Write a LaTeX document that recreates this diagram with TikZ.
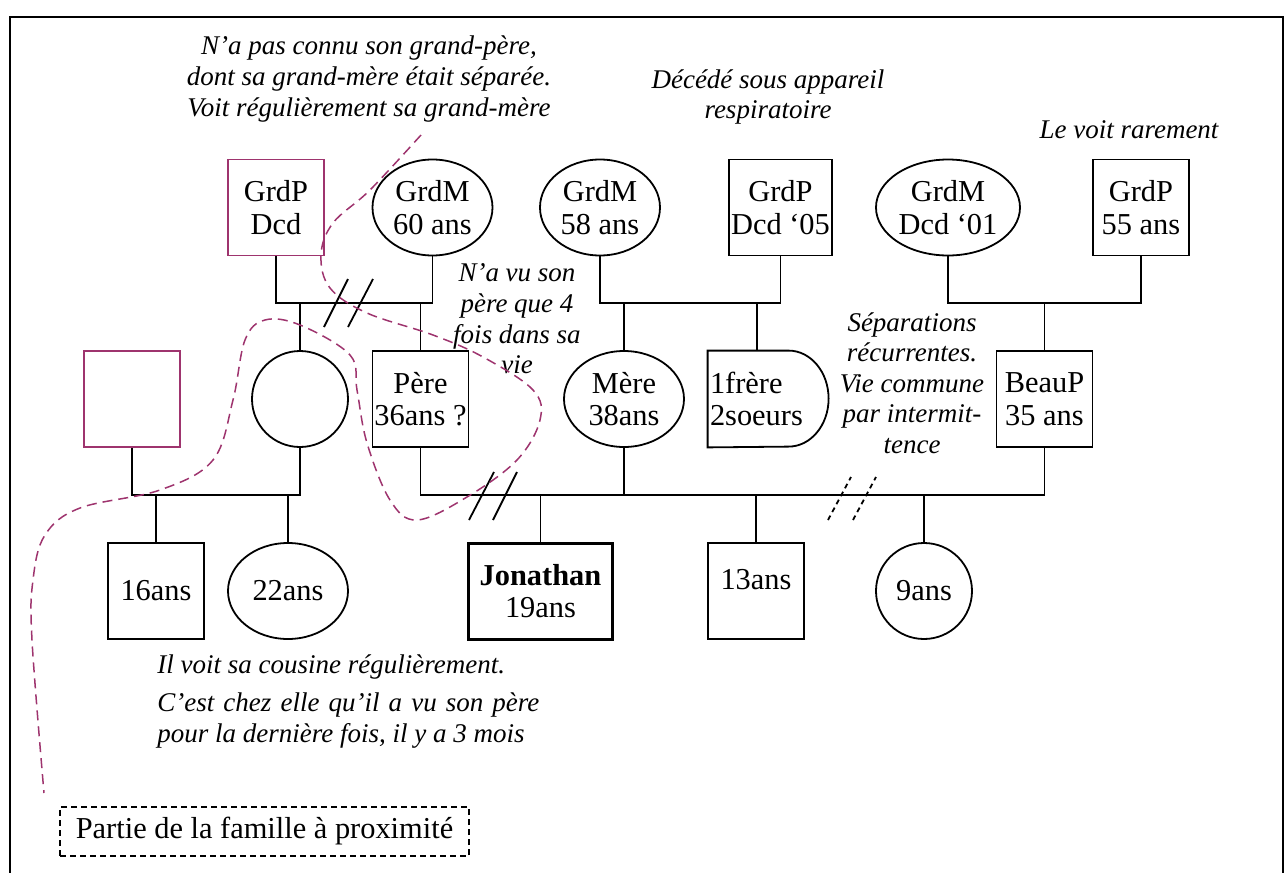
\documentclass[tikz,border=0pt]{standalone}
\usepackage{fontspec}
\setmainfont{Liberation Serif}
\usetikzlibrary{positioning,shapes.geometric}
\definecolor{prune}{RGB}{158,52,110}
\tikzstyle{homme} = [draw, rectangle, line width=0.9pt,
    minimum width=48pt, minimum height=48pt, inner sep=1pt, align=center]
\tikzstyle{femme} = [draw, ellipse, line width=0.9pt,
    minimum width=60pt, minimum height=48pt, inner sep=0pt, align=center]
\tikzstyle{ronde} = [femme, minimum width=48pt]
\tikzstyle{absent} = [homme, draw=prune]
\tikzstyle{note} = [font=\fontsize{13.5}{15.3}\selectfont\itshape, align=center, inner sep=0pt]
\tikzstyle{lien} = [line width=0.9pt]
\tikzstyle{proche} = [draw=prune, line width=0.75pt, dash pattern=on 5pt off 3pt]

\begin{document}
\begin{tikzpicture}[x=0.5pt, y=-0.5pt, font=\fontsize{15.2}{16.3}\selectfont]
	\useasboundingbox (0,0) rectangle (1287,873);
	\draw[line width=1pt] (10,873) -- (10,17) -- (1283,17) -- (1283,873);

	% grands-parents
	\node[absent] (gp1) at (276,207.5) {GrdP\\Dcd};
	\node[femme] (gm1) at (432.5,207.5) {GrdM\\60 ans};
	\node[femme] (gm2) at (600,207.5) {GrdM\\58 ans};
	\node[homme] (gp2) at (780.5,207.5) {GrdP\\Dcd ‘05};
	\node[femme, minimum width=72pt] (gm3) at (948,207.5) {GrdM\\Dcd ‘01};
	\node[homme] (gp3) at (1141,207.5) {GrdP\\55 ans};

	% parents
	\node[absent] (oncle) at (132,399) {};
	\node[ronde] (tante) at (300,399) {};
	\node[homme] (pere) at (420.5,399) {Père\\36ans ?};
	\node[femme] (mere) at (624,399) {Mère\\38ans};
	\node[minimum width=60.5pt, minimum height=48pt, inner sep=0pt] (fratrie) at (768.5,399) {};
	\node[align=left, inner sep=1pt, anchor=west] (fratxt) at (fratrie.west) {1frère\\2soeurs};
	\node[homme] (beaup) at (1044.5,399) {BeauP\\35 ans};

	% enfants
	\node[homme] (c16) at (156,591) {16ans};
	\node[femme] (c22) at (288,591) {22ans};
	\node[homme, line width=1.5pt, minimum width=72pt] (jon) at (540.5,591) {\textbf{Jonathan}\\19ans};
	\node[homme] (c13) at (756,591) {\raisebox{12pt}{13ans}};
	\node[ronde] (c9) at (924,591) {9ans};

	% notes
	\node[note] (n1) at (369,79) {N'a pas connu son grand-père,\\dont sa grand-mère était séparée.\\Voit régulièrement sa grand-mère};
	\node[note] (n2) at (768,97) {Décédé sous appareil\\respiratoire};
	\node[note] (n3) at (1129,130) {Le voit rarement};
	\node[note] (n4) at (517,319) {N'a vu son\\père que 4\\fois dans sa\\vie};
	\node[note] (n5) at (912,383) {Séparations\\récurrentes.\\Vie commune\\par intermit-\\tence};
	\node[note, anchor=base west] (n6) at (157,673) {Il voit sa cousine régulièrement.};
	\node[note, anchor=base west, align=left] (n7) at (157,742)
	    {\makebox[191pt][s]{C'est chez elle qu'il a vu son père}\\pour la dernière fois, il y a 3 mois};

	% unions
	\coordinate (u1) at (354,303);
	\draw[lien] (gp1.south) |- (u1) -| (gm1.south);
	\draw[lien] (tante.north) -- (tante.north |- u1);
	\draw[lien] (pere.north) -- (pere.north |- u1);
	\draw[lien] (u1) ++(-30,24) -- ++(24,-48) ++(0,48) -- ++(25,-48);

	\coordinate (u2) at (690,303);
	\draw[lien] (gm2.south) |- (u2) -| (gp2.south);
	\draw[lien] (mere.north) -- (mere.north |- u2);
	\draw[lien] (fratrie.north west) ++(49,0) coordinate (fr) -- (fr |- u2);
	\draw[lien] (fratrie.north west) -- ++(81,0)
	    arc[start angle=90, end angle=-90, x radius=20pt, y radius=24pt] -- (fratrie.south west) -- cycle;

	\coordinate (u3) at (1044.5,303);
	\draw[lien] (gm3.south) |- (u3) -| (gp3.south);
	\draw[lien] (beaup.north) -- (beaup.north |- u3);

	\coordinate (u4) at (216,495);
	\draw[lien] (oncle.south) |- (u4) -| (tante.south);
	\draw[lien] (c16.north) -- (c16.north |- u4);
	\draw[lien] (c22.north) -- (c22.north |- u4);

	\coordinate (u5) at (733,495);
	\draw[lien] (pere.south) |- (u5) -| (beaup.south);
	\draw[lien] (mere.south) -- (mere.south |- u5);
	\draw[lien] (jon.north) -- (jon.north |- u5);
	\draw[lien] (c13.north) -- (c13.north |- u5);
	\draw[lien] (c9.north) -- (c9.north |- u5);
	\draw[lien] (u5 -| pere.south) ++(48.5,25) -- ++(25,-48) ++(-1,48) -- ++(24,-48);
	\draw[lien, dash pattern=on 2.5pt off 2pt] (u5) ++(95,25) -- ++(23,-43) ++(2,43) -- ++(23,-43);

	% famille proche
	\draw[proche] plot[smooth, tension=0.6] coordinates {(421,135) (370,190) (333,223) (321,255)
	    (330,288) (367,313) (433,335) (483,357) (533,390) (540,420) (517,460) (467,497) (417,520)
	    (390,500) (367,443) (357,390) (350,355) (300,325) (265,320) (245,340) (233,400) (213,460)
	    (160,490) (80,508) (45,535) (33,580) (32,640) (44,793)};
	\node[draw, dash pattern=on 3pt off 2pt, line width=0.8pt, minimum width=204.5pt,
	    minimum height=24.5pt] (legende) at (264.5,831.5) {Partie de la famille à proximité};
\end{tikzpicture}
\end{document}
